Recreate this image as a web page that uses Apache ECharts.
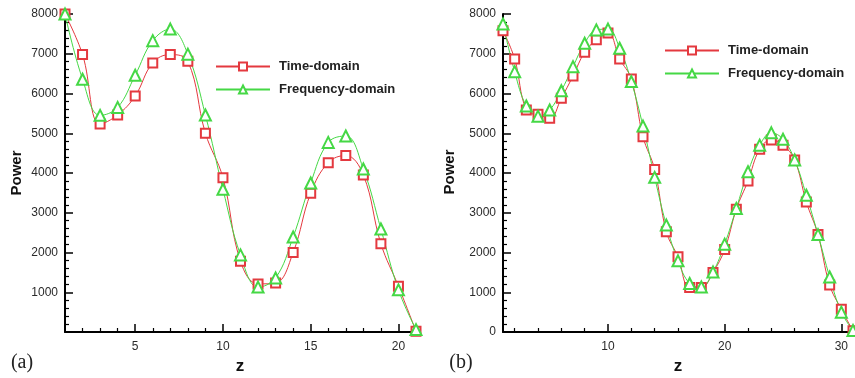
<!DOCTYPE html>
<html>
<head>
<meta charset="utf-8">
<script src="https://cdn.jsdelivr.net/npm/echarts@6/dist/echarts.min.js"></script>
<style>
html,body{margin:0;padding:0;background:#fff;}
#c{width:855px;height:378px;}
</style>
</head>
<body>
<div id="c"></div>
<script>
// ---- data ----
const zA = [1,2,3,4,5,6,7,8,9,10,11,12,13,14,15,16,17,18,19,20,21];
const timeA = [8000,6980,5230,5460,5940,6770,6980,6810,5000,3880,1780,1210,1230,2000,3490,4260,4440,3950,2220,1150,20];
const freqA = [8000,6360,5450,5650,6460,7330,7620,6990,5460,3590,1940,1130,1360,2390,3750,4770,4930,4100,2590,1060,60];

const zB = [1,2,3,4,5,6,7,8,9,10,11,12,13,14,15,16,17,18,19,20,21,22,23,24,25,26,27,28,29,30,31];
const timeB = [7580,6870,5585,5480,5375,5880,6440,7040,7350,7520,6870,6365,4910,4090,2520,1890,1120,1120,1500,2075,3090,3800,4600,4830,4700,4330,3270,2450,1180,570,30];
const freqB = [7750,6550,5685,5430,5585,6070,6675,7265,7600,7620,7140,6300,5180,3890,2690,1790,1220,1135,1510,2210,3110,4030,4700,5010,4850,4330,3440,2450,1385,500,40];

const xMajorA = [5,10,15,20];
const xMinorA = [2,3,4,6,7,8,9,11,12,13,14,16,17,18,19,21];
const xMajorB = [10,20,30];
const xMinorB = [2,4,6,8,12,14,16,18,22,24,26,28];

const seriesNames = ['Time-domain','Frequency-domain'];
const axisTitleY = 'Power';
const axisTitleX = 'z';
const panelLabels = ['(a)','(b)'];

// ---- chart ----
const RED = '#e4393f';
const GREEN = '#45d845';
const labelFont = {color:'#2a2a2a', fontSize:12, fontFamily:'Liberation Sans, Arial, sans-serif'};

function pairs(xs, ys){ return xs.map((x,i)=>[x, ys[i]]); }

function xAxes(grid, max, major, minor){
  return [
    {type:'value', gridIndex:grid, min:1, max:max,
     axisLine:{show:true, onZero:false, lineStyle:{color:'#000', width:2}},
     axisTick:{show:true, inside:true, length:8, customValues:major, lineStyle:{color:'#000', width:1.5}},
     axisLabel:Object.assign({show:true, margin:9, customValues:major, formatter:v=>String(v)}, labelFont),
     splitLine:{show:false}},
    {type:'value', gridIndex:grid, min:1, max:max, position:'bottom',
     axisLine:{show:false},
     axisTick:{show:true, inside:true, length:4, customValues:minor, lineStyle:{color:'#000', width:1.2}},
     axisLabel:{show:false},
     splitLine:{show:false}}
  ];
}
function yAxis(grid, showMin){
  return {type:'value', gridIndex:grid, min:0, max:8000, interval:1000,
    axisLine:{show:true, onZero:false, lineStyle:{color:'#000', width:2}},
    axisTick:{show:true, inside:true, length:8, lineStyle:{color:'#000', width:1.5}},
    minorTick:{show:true, splitNumber:5, length:4, lineStyle:{color:'#000', width:1.2}},
    axisLabel:Object.assign({show:true, margin:7, showMinLabel:showMin, formatter:v=>String(v)}, labelFont),
    splitLine:{show:false}, minorSplitLine:{show:false}};
}
function mkSeries(name, xi, yi, data, color, symbol, size){
  return {name:name, type:'line', xAxisIndex:xi, yAxisIndex:yi, data:data,
    smooth:0.4, symbol:symbol, symbolSize:size, showAllSymbol:true,
    lineStyle:{color:color, width:1}, itemStyle:{color:color, borderColor:color, borderWidth:1},
    emphasis:{disabled:true}, animation:false};
}
function legend(left, top){
  return {left:left, top:top, padding:0, orient:'vertical', itemWidth:54, itemHeight:10, itemGap:10,
    data:seriesNames, selectedMode:false,
    textStyle:{fontWeight:'bold', fontSize:13, color:'#222', fontFamily:'Liberation Sans, Arial, sans-serif', padding:[0,0,0,4]}};
}

const chart = echarts.init(document.getElementById('c'), null, {renderer:'canvas'});
chart.setOption({
  animation:false,
  backgroundColor:'#fff',
  grid:[
    {left:65, top:14, width:351, height:318},
    {left:503, top:14, width:350, height:318}
  ],
  xAxis:[].concat(xAxes(0,21,xMajorA,xMinorA), xAxes(1,31,xMajorB,xMinorB)),
  yAxis:[yAxis(0,false), yAxis(1,true)],
  legend:[legend(215,60), legend(664,44)],
  series:[
    mkSeries(seriesNames[0],0,0,pairs(zA,timeA),RED,'emptyRect',9),
    mkSeries(seriesNames[1],0,0,pairs(zA,freqA),GREEN,'emptyTriangle',11),
    mkSeries(seriesNames[0],2,1,pairs(zB,timeB),RED,'emptyRect',9),
    mkSeries(seriesNames[1],2,1,pairs(zB,freqB),GREEN,'emptyTriangle',11)
  ],
  graphic:[
    {type:'text', x:17, y:173, rotation:Math.PI/2, style:{text:axisTitleY, font:'bold 15px Liberation Sans, Arial, sans-serif', fill:'#111', align:'center', verticalAlign:'middle'}},
    {type:'text', x:450, y:172, rotation:Math.PI/2, style:{text:axisTitleY, font:'bold 15px Liberation Sans, Arial, sans-serif', fill:'#111', align:'center', verticalAlign:'middle'}},
    {type:'text', x:240, y:366, style:{text:axisTitleX, font:'bold 17px Liberation Sans, Arial, sans-serif', fill:'#111', align:'center', verticalAlign:'middle'}},
    {type:'text', x:678, y:366, style:{text:axisTitleX, font:'bold 17px Liberation Sans, Arial, sans-serif', fill:'#111', align:'center', verticalAlign:'middle'}},
    {type:'text', x:22, y:363, style:{text:panelLabels[0], font:'20px Liberation Serif, Times New Roman, serif', fill:'#222', align:'center', verticalAlign:'middle'}},
    {type:'text', x:461, y:363, style:{text:panelLabels[1], font:'20px Liberation Serif, Times New Roman, serif', fill:'#222', align:'center', verticalAlign:'middle'}}
  ]
});
</script>
</body>
</html>
